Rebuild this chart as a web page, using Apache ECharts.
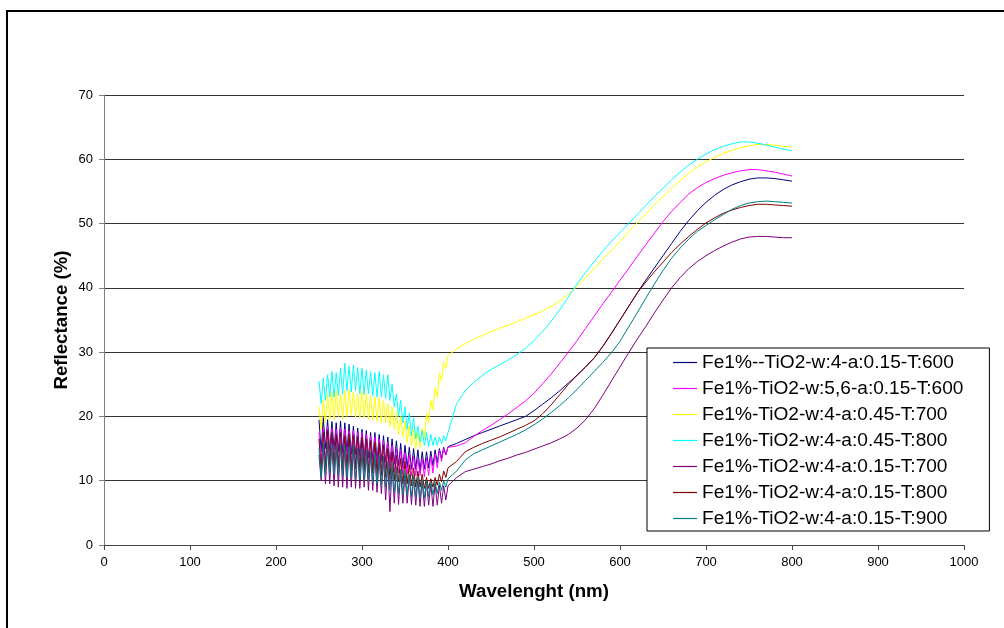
<!DOCTYPE html>
<html>
<head>
<meta charset="utf-8">
<script src="https://cdn.jsdelivr.net/npm/echarts/dist/echarts.min.js"></script>
<style>
  html, body { margin: 0; padding: 0; background: #fff; }
  #chart { width: 1004px; height: 628px; }
</style>
</head>
<body>
<div id="chart"></div>
<script>
// Wavelength grid (nm): fine steps in the noisy UV part, 10 nm steps afterwards
const wavelengthUv = [250,252.5,255,257.5,260,262.5,265,267.5,270,272.5,275,277.5,280,282.5,285,287.5,290,292.5,295,297.5,300,302.5,305,307.5,310,312.5,315,317.5,320,322.5,325,327.5,330,332.5,335,337.5,340,342.5,345,347.5,350,352.5,355,357.5,360,362.5,365,367.5,370,372.5,375,377.5,380,382.5,385,387.5,390,392.5,395,397.5,400];
const wavelengthVis = [410,420,430,440,450,460,470,480,490,500,510,520,530,540,550,560,570,580,590,600,610,620,630,640,650,660,670,680,690,700,710,720,730,740,750,760,770,780,790,800];

const seriesNames = [
  'Fe1%--TiO2-w:4-a:0.15-T:600',
  'Fe1%-TiO2-w:5,6-a:0.15-T:600',
  'Fe1%-TiO2-w:4-a:0.45-T:700',
  'Fe1%-TiO2-w:4-a:0.45-T:800',
  'Fe1%-TiO2-w:4-a:0.15-T:700',
  'Fe1%-TiO2-w:4-a:0.15-T:800',
  'Fe1%-TiO2-w:4-a:0.15-T:900'
];
const seriesColors = ['#000080', '#ff00ff', '#ffff00', '#00ffff', '#800080', '#800000', '#008080'];

// Reflectance (%) per sample
const w4T600Uv = [19.5,14.5,19.8,15.0,19.5,14.5,19.2,14.8,19.0,14.5,19.3,14.2,19.0,14.5,18.8,14.0,18.5,14.0,18.2,13.8,18.0,13.5,17.8,13.5,17.5,13.2,17.5,13.0,17.2,13.0,17.0,12.8,16.8,12.5,16.5,12.5,16.2,12.3,15.8,12.0,15.5,12.0,15.2,11.8,15.0,11.8,14.8,11.5,14.5,11.8,14.5,12.0,14.6,12.3,14.8,12.8,15.0,13.5,15.2,14.0,15.3];
const w4T600Vis = [15.8,16.4,17.0,17.5,18.0,18.5,19.0,19.5,20.0,20.9,21.9,22.9,24.0,25.2,26.4,27.7,29.1,30.9,32.9,35.0,37.1,39.2,41.2,43.1,45.0,46.9,48.8,50.5,52.0,53.3,54.4,55.3,56.0,56.5,56.9,57.1,57.1,57.0,56.8,56.6];

const w56T600Uv = [17.5,12.5,18.2,13.0,18.5,13.2,18.2,13.0,18.0,13.0,18.3,12.8,18.0,12.8,17.8,12.5,17.8,12.5,17.5,12.3,17.5,12.5,17.2,12.2,17.0,12.0,16.8,12.0,16.5,11.8,16.2,11.8,16.0,11.5,15.5,11.3,15.0,11.2,14.8,11.0,14.3,11.0,14.0,10.8,13.8,10.8,13.5,10.8,13.5,10.6,13.5,10.8,13.8,11.2,14.2,12.0,14.8,13.0,15.0,14.0,15.2];
const w56T600Vis = [15.4,15.9,16.9,17.8,18.6,19.5,20.4,21.4,22.4,23.6,25.1,26.6,28.3,30.0,31.8,33.7,35.6,37.5,39.3,41.2,43.0,44.9,46.7,48.5,50.3,51.9,53.3,54.6,55.6,56.4,57.0,57.5,57.9,58.2,58.4,58.4,58.2,58.0,57.7,57.4];

const a045T700Uv = [21.5,18.0,22.5,19.0,23.5,19.5,23.8,19.5,24.0,20.0,23.5,19.5,24.0,20.0,24.2,20.2,23.8,19.8,23.5,19.8,24.0,19.8,23.5,19.5,23.3,19.5,23.0,19.2,23.0,19.0,22.5,19.0,22.0,18.5,21.5,18.0,20.8,17.2,20.0,16.8,19.2,16.0,18.5,15.5,18.0,15.0,17.5,15.2,18.2,16.5,20.5,19.0,22.5,21.0,24.5,23.0,26.8,25.5,28.5,27.5,29.5];
const a045T700Vis = [30.5,31.3,32.0,32.6,33.2,33.7,34.2,34.7,35.3,35.8,36.4,37.1,38.0,39.0,40.2,41.6,43.0,44.5,45.8,47.2,48.7,50.1,51.5,52.9,54.2,55.5,56.7,57.8,58.8,59.6,60.3,60.9,61.4,61.8,62.1,62.3,62.3,62.2,62.0,61.9];

const a045T800Uv = [25.5,22.0,26.0,22.5,26.5,23.0,27.0,23.0,26.8,23.2,27.5,23.5,28.3,24.0,27.8,23.8,28.0,24.0,27.6,23.5,27.5,23.4,27.2,23.5,27.0,23.2,26.8,23.0,27.0,23.0,26.5,22.8,26.5,22.5,25.0,21.5,23.5,20.0,22.5,19.0,21.5,18.0,20.5,17.0,19.8,16.5,18.5,16.0,17.8,15.5,17.5,15.3,17.2,15.5,16.8,15.5,16.8,15.8,17.0,16.2,17.5];
const a045T800Vis = [22.0,24.0,25.3,26.4,27.3,28.0,28.8,29.6,30.6,31.8,33.2,34.8,36.6,38.6,40.6,42.4,44.1,45.7,47.2,48.6,50.0,51.4,52.8,54.2,55.5,56.8,58.0,59.1,60.0,60.8,61.5,62.0,62.4,62.7,62.7,62.5,62.2,61.9,61.6,61.3];

const a015T700Uv = [14.0,10.0,15.0,9.5,15.5,9.5,15.8,9.2,15.5,9.0,15.8,9.0,15.2,8.8,15.5,9.0,15.0,8.8,15.0,8.8,14.8,9.0,14.5,8.5,14.3,8.5,14.0,8.2,13.8,8.0,13.5,7.0,12.8,5.2,12.5,6.5,12.0,6.3,11.5,6.5,11.0,6.5,10.8,6.3,10.5,6.2,10.2,6.0,10.0,6.0,9.8,6.2,9.5,6.0,9.5,6.2,9.3,6.5,9.2,7.0,9.2];
const a015T700Vis = [10.5,11.4,11.8,12.2,12.6,13.1,13.5,14.0,14.4,14.9,15.4,15.9,16.5,17.2,18.2,19.5,21.2,23.3,25.5,27.7,29.9,32.0,34.0,36.1,38.1,40.0,41.6,43.0,44.1,45.0,45.8,46.5,47.1,47.6,47.9,48.0,48.0,47.9,47.8,47.8];

const a015T800Uv = [16.5,11.5,17.5,12.0,17.8,12.2,17.5,12.0,17.2,12.0,17.5,11.8,17.0,11.8,17.3,11.5,17.0,11.8,16.8,11.5,16.8,11.5,16.5,11.2,16.2,11.2,16.0,11.0,15.8,10.8,15.5,10.5,15.0,10.2,14.5,10.0,14.0,9.8,13.5,9.5,13.0,9.5,12.5,9.2,12.0,9.0,11.5,9.0,11.0,8.8,10.5,8.8,10.3,9.0,10.5,9.3,11.0,9.8,11.5,10.5,12.0];
const a015T800Vis = [13.0,14.5,15.2,15.8,16.3,16.8,17.4,18.0,18.6,19.3,20.4,21.8,23.4,25.0,26.4,27.7,29.1,30.9,32.9,35.0,37.1,39.2,40.9,42.5,44.0,45.5,46.8,48.0,49.1,50.1,50.9,51.6,52.1,52.5,52.8,53.0,53.0,52.9,52.8,52.7];

const a015T900Uv = [15.0,10.5,15.8,11.0,16.0,11.2,15.8,11.0,15.5,10.8,15.8,10.8,15.5,10.5,15.3,10.5,15.5,10.3,15.0,10.2,15.0,10.0,14.8,10.0,14.5,9.8,14.2,9.5,14.0,9.3,13.8,9.0,13.0,8.5,12.8,8.2,12.2,8.0,11.8,7.8,11.5,7.8,11.0,7.5,10.8,7.5,10.5,7.3,10.2,7.3,10.0,7.5,9.8,7.8,9.8,8.0,9.8,8.5,10.0,9.0,10.3];
const a015T900Vis = [11.5,13.2,14.2,14.8,15.4,16.0,16.6,17.2,17.9,18.7,19.6,20.6,21.7,22.9,24.2,25.6,27.0,28.4,29.9,31.7,33.9,36.1,38.4,40.6,42.7,44.6,46.2,47.6,48.8,49.7,50.6,51.4,52.2,52.8,53.2,53.4,53.5,53.4,53.3,53.2];

const xTicks = { min: 0, max: 1000, interval: 100 };
const yTicks = { min: 0, max: 70, interval: 10 };

const wavelengths = wavelengthUv.concat(wavelengthVis);
const reflectance = [
  w4T600Uv.concat(w4T600Vis),
  w56T600Uv.concat(w56T600Vis),
  a045T700Uv.concat(a045T700Vis),
  a045T800Uv.concat(a045T800Vis),
  a015T700Uv.concat(a015T700Vis),
  a015T800Uv.concat(a015T800Vis),
  a015T900Uv.concat(a015T900Vis)
];

const font = "'Liberation Sans', Arial, sans-serif";
const chart = echarts.init(document.getElementById('chart'), null, { renderer: 'canvas' });

chart.setOption({
  animation: false,
  backgroundColor: '#fff',
  textStyle: { fontFamily: font },
  grid: { left: 104, right: 40, top: 95, bottom: 83, containLabel: false },
  graphic: [{
    type: 'rect',
    silent: true,
    shape: { x: 7, y: 11, width: 1100, height: 700 },
    style: { fill: 'none', stroke: '#000', lineWidth: 2 }
  }],
  legend: {
    orient: 'vertical',
    left: 647,
    top: 348,
    padding: [5, 26, 3, 26],
    itemGap: 7,
    itemWidth: 24,
    itemHeight: 1.2,
    icon: 'rect',
    backgroundColor: '#fff',
    borderColor: '#000',
    borderWidth: 1,
    textStyle: { fontFamily: font, fontSize: 19.1, color: '#000', lineHeight: 19 },
    data: seriesNames
  },
  xAxis: {
    type: 'value',
    min: xTicks.min, max: xTicks.max, interval: xTicks.interval,
    name: 'Wavelenght (nm)',
    nameLocation: 'middle',
    nameGap: 37,
    nameMoveOverlap: false,
    nameTextStyle: { fontFamily: font, fontSize: 18.7, fontWeight: 'bold', color: '#000' },
    axisLine: { lineStyle: { color: '#444', width: 1 } },
    axisTick: { show: true, length: 5, lineStyle: { color: '#444' } },
    axisLabel: { fontFamily: font, fontSize: 13, color: '#000', margin: 11, formatter: v => String(v) },
    splitLine: { show: false }
  },
  yAxis: {
    type: 'value',
    min: yTicks.min, max: yTicks.max, interval: yTicks.interval,
    name: 'Reflectance (%)',
    nameLocation: 'middle',
    nameGap: 33,
    nameMoveOverlap: false,
    nameRotate: 90,
    nameTextStyle: { fontFamily: font, fontSize: 18.7, fontWeight: 'bold', color: '#000' },
    axisLine: { show: true, lineStyle: { color: '#808080', width: 1 } },
    axisTick: { show: true, length: 5, lineStyle: { color: '#808080' } },
    axisLabel: { fontFamily: font, fontSize: 13, color: '#000', margin: 11, formatter: v => String(v) },
    splitLine: { show: true, lineStyle: { color: '#333', width: 1 } }
  },
  series: seriesNames.map((name, s) => ({
    name,
    type: 'line',
    showSymbol: false,
    symbol: 'none',
    smooth: false,
    color: seriesColors[s],
    lineStyle: { width: 1, color: seriesColors[s] },
    data: wavelengths.map((w, i) => [w, reflectance[s][i]])
  }))
});
</script>
</body>
</html>
